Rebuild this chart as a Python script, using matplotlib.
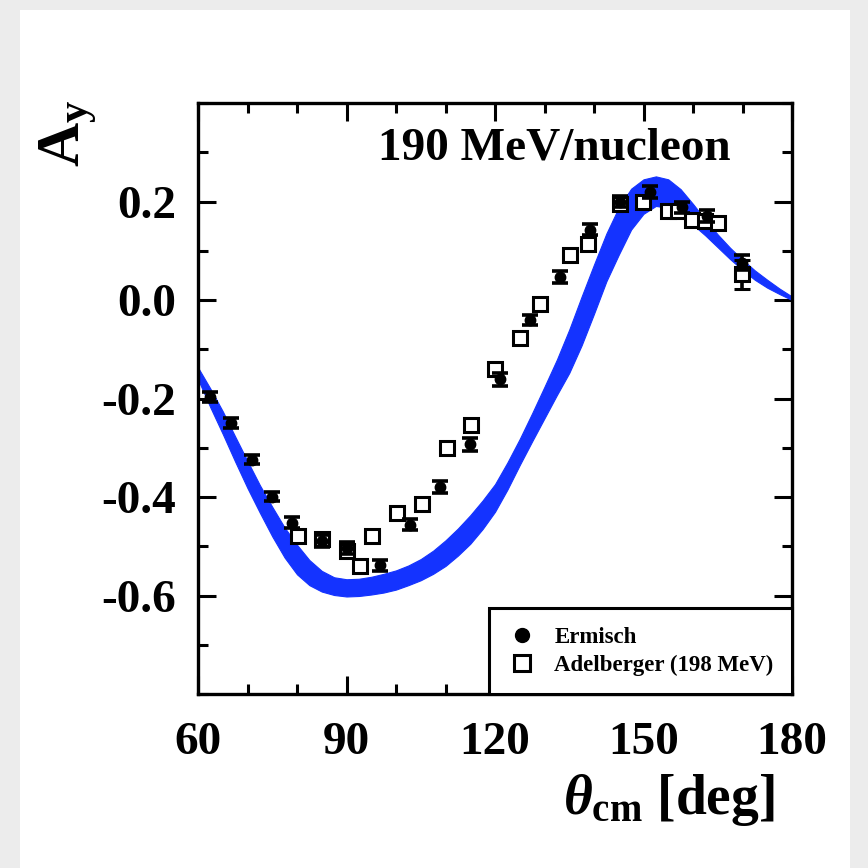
import matplotlib
matplotlib.use("Agg")
import matplotlib.pyplot as plt
from matplotlib.patches import Rectangle
from matplotlib.lines import Line2D
from matplotlib.ticker import MultipleLocator

plt.rcParams['font.family'] = ['Liberation Serif', 'DejaVu Serif']
plt.rcParams['font.weight'] = 'bold'
plt.rcParams['mathtext.fontset'] = 'custom'
plt.rcParams['mathtext.rm'] = 'Liberation Serif:bold'
plt.rcParams['mathtext.bf'] = 'Liberation Serif:bold'
plt.rcParams['mathtext.it'] = 'Liberation Serif:italic'

# Theory band (lower / upper edges)
band_theta = [60, 62.5, 65, 67.5, 70, 72.5, 75, 77.5, 80, 82.5, 85, 87.5,
              90, 92.5, 95, 97.5, 100, 102.5, 105, 107.5, 110, 112.5, 115,
              117.5, 120, 122.5, 125, 127.5, 130, 132.5, 135, 137.5, 140,
              142.5, 145, 147.5, 150, 152.5, 155, 157.5, 160, 162.5, 165,
              167.5, 170, 172.5, 175, 177.5, 180]
band_hi = [-0.137, -0.180, -0.226, -0.277, -0.327, -0.376, -0.420, -0.462,
           -0.497, -0.528, -0.550, -0.563, -0.567, -0.566, -0.562, -0.556,
           -0.549, -0.539, -0.526, -0.509, -0.488, -0.464, -0.437, -0.407,
           -0.374, -0.330, -0.282, -0.230, -0.176, -0.121, -0.060, 0.007,
           0.072, 0.135, 0.188, 0.226, 0.245, 0.251, 0.245, 0.225, 0.195,
           0.163, 0.133, 0.106, 0.082, 0.060, 0.041, 0.023, 0.007]
band_lo = [-0.161, -0.218, -0.272, -0.328, -0.382, -0.432, -0.480, -0.523,
           -0.557, -0.579, -0.592, -0.599, -0.602, -0.601, -0.598, -0.594,
           -0.588, -0.579, -0.569, -0.556, -0.540, -0.519, -0.495, -0.465,
           -0.430, -0.385, -0.335, -0.287, -0.240, -0.193, -0.148, -0.092,
           -0.028, 0.038, 0.092, 0.143, 0.175, 0.191, 0.187, 0.172, 0.153,
           0.131, 0.107, 0.083, 0.061, 0.041, 0.025, 0.012, 0.000]

# Ermisch data
erm_theta = [62.4, 66.7, 70.9, 75.0, 79.0, 85.0, 90.1, 96.8, 102.8, 108.9,
             114.9, 121.0, 127.1, 133.1, 139.2, 145.3, 151.3, 157.8, 162.8, 169.9]
erm_ay = [-0.197, -0.249, -0.324, -0.399, -0.452, -0.490, -0.503, -0.539,
          -0.456, -0.379, -0.293, -0.161, -0.040, 0.046, 0.143, 0.200,
          0.220, 0.188, 0.170, 0.076]
erm_err = [0.010, 0.010, 0.010, 0.010, 0.011, 0.012, 0.012, 0.011, 0.012,
           0.012, 0.013, 0.013, 0.010, 0.012, 0.012, 0.012, 0.012, 0.012,
           0.012, 0.015]

# Adelberger (198 MeV) data
adl_theta = [80.2, 85.0, 90.2, 92.7, 95.2, 100.2, 105.3, 110.3, 115.1, 120.0,
             125.0, 129.1, 135.2, 138.8, 145.3, 149.9, 155.0, 157.0, 159.8,
             162.5, 165.0, 169.9]
adl_ay = [-0.480, -0.485, -0.510, -0.540, -0.480, -0.432, -0.415, -0.300,
          -0.253, -0.141, -0.077, -0.009, 0.092, 0.113, 0.194, 0.200, 0.180,
          0.180, 0.163, 0.160, 0.157, 0.052]
adl_err = [0.010, 0.010, 0.010, 0.010, 0.010, 0.010, 0.010, 0.010, 0.010,
           0.010, 0.010, 0.010, 0.010, 0.010, 0.010, 0.010, 0.010, 0.010,
           0.010, 0.010, 0.010, 0.030]

x_ticks = [60, 90, 120, 150, 180]
y_ticks = [-0.6, -0.4, -0.2, 0.0, 0.2]

fig = plt.figure(figsize=(8.68, 8.68), dpi=100)
fig.patch.set_facecolor('#ececec')
panel = Rectangle((20 / 868, 0), 830 / 868, 858 / 868,
                  transform=fig.transFigure, facecolor='white',
                  edgecolor='none', zorder=-10)
fig.patches.append(panel)

ax = fig.add_axes([198 / 868, 1 - 694 / 868, 594 / 868, 591 / 868])
ax.set_zorder(5)
ax.set_facecolor('white')

ax.fill_between(band_theta, band_lo, band_hi, color='#1433ff', lw=0.8,
                edgecolor='#1433ff', zorder=2)

ax.errorbar(erm_theta, erm_ay, yerr=erm_err, fmt='o', color='black',
            ms=7.5, capsize=6, capthick=2.6, elinewidth=2.6, zorder=4)
ax.errorbar(adl_theta, adl_ay, yerr=adl_err, fmt='s', color='black',
            mfc='white', mec='black', mew=2.2, ms=10, capsize=6,
            capthick=2.6, elinewidth=2.6, zorder=3)

ax.set_xlim(60, 180)
ax.set_ylim(-0.8, 0.4)
ax.set_xticks(x_ticks)
ax.set_yticks(y_ticks)
ax.set_xticklabels([str(v) for v in x_ticks])
ax.set_yticklabels(['%.1f' % v for v in y_ticks])
ax.xaxis.set_minor_locator(MultipleLocator(10))
ax.yaxis.set_minor_locator(MultipleLocator(0.1))
ax.tick_params(which='both', direction='in', top=True, right=True,
               width=2.2, labelsize=34)
ax.tick_params(which='major', length=13)
ax.tick_params(which='minor', length=7)
ax.tick_params(axis='x', which='major', pad=20)
ax.tick_params(axis='y', which='major', pad=16)
for s in ax.spines.values():
    s.set_linewidth(2.4)
for lab in ax.get_xticklabels() + ax.get_yticklabels():
    lab.set_fontweight('bold')

ax.text((378 - 198) / 594, (694 - 148) / 591, '190 MeV/nucleon',
        transform=ax.transAxes, fontsize=34, fontweight='bold',
        ha='left', va='center')

handles = [
    Line2D([], [], marker='o', ls='none', color='black', ms=10),
    Line2D([], [], marker='s', ls='none', mfc='white', mec='black',
           mew=2.2, ms=11),
]
leg = ax.legend(handles, ['Ermisch', 'Adelberger (198 MeV)'],
                loc='lower right', prop={'size': 16.5, 'weight': 'bold'},
                frameon=True, fancybox=False, borderpad=0.8,
                handletextpad=0.75, labelspacing=0.3, borderaxespad=0,
                handlelength=1.3)
leg.get_frame().set_edgecolor('black')
leg.get_frame().set_linewidth(2.2)
leg.get_frame().set_alpha(1)

fig.text(563 / 868, 1 - 800 / 868, r'$\theta_{\mathrm{cm}}$ [deg]',
         fontsize=40, fontweight='bold', ha='left', va='center')
fig.text(68 / 868, 1 - 133 / 868, r'$\mathrm{A}_{\mathrm{y}}$',
         fontsize=44, fontweight='bold', rotation=90, ha='center', va='center')

fig.savefig('out.png', dpi=100)
